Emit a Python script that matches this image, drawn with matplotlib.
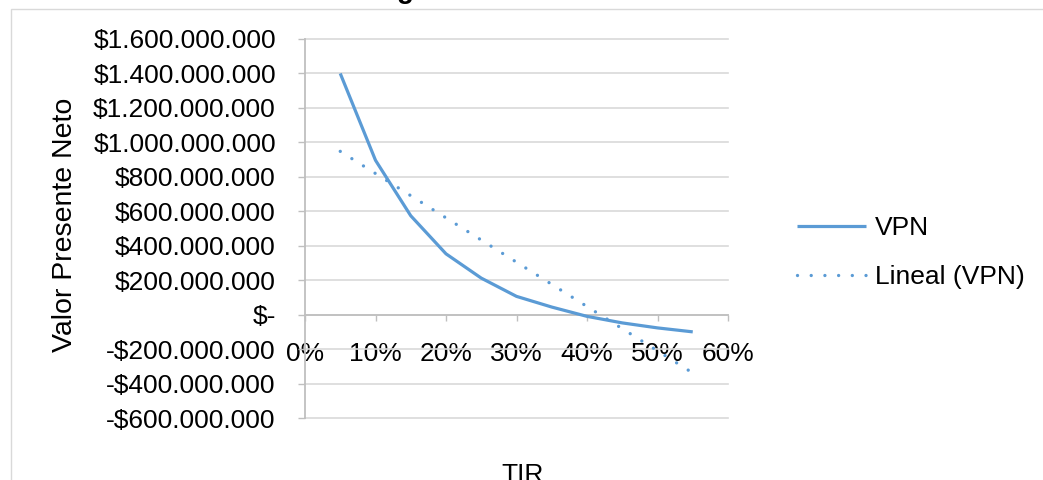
import numpy as np
import matplotlib
matplotlib.use("Agg")
import matplotlib.pyplot as plt
from matplotlib.patches import Rectangle

# ---- data ----
tir = [0.05, 0.10, 0.15, 0.20, 0.25, 0.30, 0.35, 0.40, 0.45, 0.50, 0.55]
vpn = [1400e6, 896e6, 574e6, 353e6, 212e6, 106e6, 44e6, -10e6, -48e6, -77e6, -100e6]
yticks = [-600e6, -400e6, -200e6, 0, 200e6, 400e6, 600e6, 800e6, 1000e6, 1200e6, 1400e6, 1600e6]
ytick_labels = ["-$600.000.000", "-$400.000.000", "-$200.000.000", "$-",
                "$200.000.000", "$400.000.000", "$600.000.000", "$800.000.000",
                "$1.000.000.000", "$1.200.000.000", "$1.400.000.000", "$1.600.000.000"]
xticks = [0, 0.1, 0.2, 0.3, 0.4, 0.5, 0.6]
xtick_labels = ["0%", "10%", "20%", "30%", "40%", "50%", "60%"]
series_label = "VPN"
trend_label = "Lineal (VPN)"
ylabel = "Valor Presente Neto"
xlabel = "TIR"

plt.rcParams['font.family'] = ['Liberation Sans', 'DejaVu Sans']
FS = 19
W, H = 1043, 480
fig = plt.figure(figsize=(W / 100, H / 100), dpi=100)

# chart area border (extends past the right and bottom edges)
fig.patches.append(Rectangle((11 / W, -0.1), 1.2, 1 - 9 / H + 0.1, transform=fig.transFigure,
                             fill=False, edgecolor="#d9d9d9", linewidth=1.0))

ax = fig.add_axes([305 / W, 1 - 418 / H, (728 - 305) / W, (418 - 39) / H])
blue = "#5b9bd5"
ax.plot(tir, vpn, color=blue, linewidth=2.3, solid_joinstyle="round", solid_capstyle="butt",
        label=series_label, zorder=3)

coef = np.polyfit(tir, vpn, 1)
trend = np.polyval(coef, tir)
ax.plot(tir, trend, color=blue, linewidth=2.4, linestyle=(0, (0.01, 4.1)),
        dash_capstyle="round", label=trend_label, zorder=3)

ax.set_xlim(0, 0.6)
ax.set_ylim(-600e6, 1600e6)
ax.set_yticks(yticks)
ax.set_yticklabels(ytick_labels)
ax.set_xticks(xticks)
ax.set_xticklabels(xtick_labels)
ax.grid(axis="y", color="#d9d9d9", linewidth=1.2)
for gl in ax.get_ygridlines():
    gl.set_clip_on(False)
ax.set_axisbelow(True)

for s in ["top", "right"]:
    ax.spines[s].set_visible(False)
ax.spines["left"].set_color("#bfbfbf")
ax.spines["left"].set_linewidth(1.3)
ax.spines["bottom"].set_position(("data", 0))
ax.spines["bottom"].set_color("#bfbfbf")
ax.spines["bottom"].set_linewidth(1.3)

ax.tick_params(axis="y", length=5, width=1.0, color="#bfbfbf", pad=16, labelsize=FS, labelcolor="black")
ax.tick_params(axis="x", length=4, width=1.0, color="#bfbfbf", pad=16, labelsize=FS, labelcolor="black")

fig.text(65 / W, 1 - 225 / H, ylabel, rotation=90, ha="center", va="center", fontsize=20.5)
fig.text(523 / W, 1 - 463 / H, xlabel, ha="center", va="top", fontsize=FS)

# cut-off title fragment
fig.text(405 / W, 1 + 2 / H, "g", ha="center", va="baseline", fontsize=20, fontweight="bold")

fig.legend(loc="center left", bbox_to_anchor=(797 / W, 1 - 252.5 / H), frameon=False,
           fontsize=FS, handlelength=2.6, handletextpad=0.35, labelspacing=0.95,
           borderpad=0, borderaxespad=0)

fig.savefig("out.png", dpi=100)
